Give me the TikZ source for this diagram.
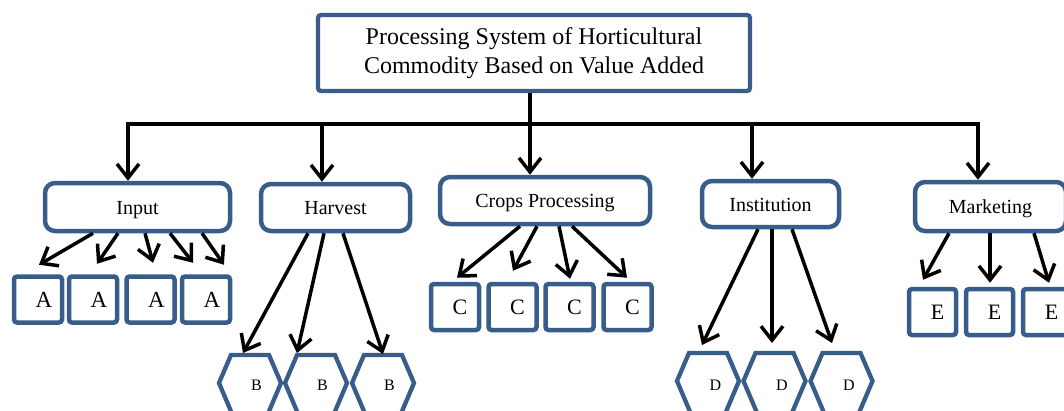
\documentclass[tikz,border=0pt]{standalone}
\usepackage{fontspec}
\setmainfont{Liberation Serif}
\usetikzlibrary{arrows.meta}
\definecolor{boxblue}{RGB}{56,93,138}
\begin{document}
\begin{tikzpicture}[x=1pt,y=-1pt,
  arr/.style={line width=3.5pt,-{Straight Barb[length=14pt,width=22pt]}},
  bus/.style={line width=3.5pt},
  topbox/.style={draw=boxblue,line width=4.3pt,rounded corners=3pt,minimum width=432pt,minimum height=76pt,align=center,font=\fontsize{24}{29}\selectfont,inner sep=0pt},
  catbox/.style={draw=boxblue,line width=4.5pt,rounded corners=10pt,inner sep=0pt,text height=14pt,text depth=0pt,font=\fontsize{20}{24}\selectfont},
  leaf/.style={draw=boxblue,line width=4.5pt,rounded corners=3pt,inner sep=0pt,minimum width=48pt,minimum height=46pt,font=\fontsize{23}{26}\selectfont},
  hexline/.style={draw=boxblue,line width=4.3pt,line join=miter},
  hexlbl/.style={font=\fontsize{16}{18}\selectfont,inner sep=0pt}
]
\useasboundingbox (0,0) rectangle (1064,410);
\fill[white] (0,0) rectangle (1064,410);

% top node
\node[topbox] (top) at (534,53) {Processing System of Horticultural\\Commodity Based on Value Added};

% categories
\node[catbox,minimum width=185pt,minimum height=48pt] (input) at (137.5,207) {Input};
\node[catbox,minimum width=149pt,minimum height=47pt] (harvest) at (335.5,207.5) {Harvest};
\node[catbox,minimum width=210pt,minimum height=47pt] (crops) at (545,200.5) {Crops Processing};
\node[catbox,minimum width=137pt,minimum height=46pt] (inst) at (770.5,204) {Institution};
\node[catbox,minimum width=151pt,minimum height=49pt] (market) at (990.5,206.5) {Marketing};

% leaves A
\node[leaf] (a1) at (38,299.5) {\hspace*{12pt}A};
\node[leaf] (a2) at (93,299.5) {\hspace*{12pt}A};
\node[leaf] (a3) at (150.5,299.5) {\hspace*{12pt}A};
\node[leaf] (a4) at (206,299.5) {\hspace*{12pt}A};
% leaves C
\node[leaf,font=\fontsize{22}{26}\selectfont] (c1) at (455,307) {\hspace*{10pt}\raisebox{-3pt}{C}};
\node[leaf,font=\fontsize{22}{26}\selectfont] (c2) at (512.5,307) {\hspace*{10pt}\raisebox{-3pt}{C}};
\node[leaf,font=\fontsize{22}{26}\selectfont] (c3) at (569.5,307) {\hspace*{10pt}\raisebox{-3pt}{C}};
\node[leaf,font=\fontsize{22}{26}\selectfont] (c4) at (627.5,307) {\hspace*{10pt}\raisebox{-3pt}{C}};
% leaves E
\node[leaf,minimum width=47pt,font=\fontsize{22}{26}\selectfont] (e1) at (932.5,312) {\hspace*{10pt}E};
\node[leaf,minimum width=47pt,font=\fontsize{22}{26}\selectfont] (e2) at (989.5,312) {\hspace*{10pt}E};
\node[leaf,minimum width=47pt,font=\fontsize{22}{26}\selectfont] (e3) at (1046.5,312) {\hspace*{10pt}E};

% hexagons B (bottom edge lies below the picture)
\coordinate (b1) at (250,383);
\coordinate (b2) at (316,383);
\coordinate (b3) at (383,383);
\draw[hexline] (b1) ++(-31,0) -- ++(12,-28) -- ++(38,0) -- ++(12,28) -- ++(-14,33) -- ++(-34,0) -- cycle;
\draw[hexline] (b2) ++(-31,0) -- ++(12,-28) -- ++(38,0) -- ++(12,28) -- ++(-14,33) -- ++(-34,0) -- cycle;
\draw[hexline] (b3) ++(-31,0) -- ++(12,-28) -- ++(38,0) -- ++(12,28) -- ++(-14,33) -- ++(-34,0) -- cycle;
\node[hexlbl] (b1t) at ([xshift=6.5pt,yshift=-2pt]b1) {B};
\node[hexlbl] (b2t) at ([xshift=6.5pt,yshift=-2pt]b2) {B};
\node[hexlbl] (b3t) at ([xshift=6.5pt,yshift=-2pt]b3) {B};
% hexagons D
\coordinate (d1) at (708,381);
\coordinate (d2) at (774.5,381);
\coordinate (d3) at (841.5,381);
\draw[hexline] (d1) ++(-31,0) -- ++(12,-28) -- ++(38,0) -- ++(12,28) -- ++(-14,33) -- ++(-34,0) -- cycle;
\draw[hexline] (d2) ++(-31,0) -- ++(12,-28) -- ++(38,0) -- ++(12,28) -- ++(-14,33) -- ++(-34,0) -- cycle;
\draw[hexline] (d3) ++(-31,0) -- ++(12,-28) -- ++(38,0) -- ++(12,28) -- ++(-14,33) -- ++(-34,0) -- cycle;
\node[hexlbl] (d1t) at ([xshift=7.5pt,yshift=-4pt]d1) {D};
\node[hexlbl] (d2t) at ([xshift=7.5pt,yshift=-4pt]d2) {D};
\node[hexlbl] (d3t) at ([xshift=7.5pt,yshift=-4pt]d3) {D};

% bus
\coordinate (busC) at (530,124);
\coordinate (busL) at (128,124);
\coordinate (busH) at (322,124);
\coordinate (busI) at (752,124);
\coordinate (busR) at (978,124);
\draw[bus] (top.south -| busC) -- (busC);
\draw[bus,line cap=rect] (busL) -- (busR);
\draw[arr] (busL) -- (busL |- input.north);
\draw[arr] (busH) -- (busH |- harvest.north);
\draw[arr] (busC) -- (busC |- crops.north);
\draw[arr] (busI) -- (busI |- inst.north);
\draw[arr] (busR) -- (busR |- market.north);

% Input arrows
\draw[arr] ([xshift=-44.5pt]input.south) -- ([xshift=1pt,yshift=9.5pt]a1.north);
\draw[arr] ([xshift=-19.5pt]input.south) -- ([xshift=4pt,yshift=10.5pt]a2.north);
\draw[arr] ([xshift=7.5pt]input.south) -- ([xshift=2.5pt,yshift=11.5pt]a3.north);
\draw[arr] ([xshift=32.5pt]input.south) -- ([xshift=-13pt,yshift=11.5pt]a4.north);
\draw[arr] ([xshift=64.5pt]input.south) -- ([xshift=18pt,yshift=9.5pt]a4.north);

% Harvest arrows
\draw[arr] ([xshift=-27.5pt]harvest.south) -- ([xshift=-7pt,yshift=30pt]b1);
\draw[arr] ([xshift=-11.5pt]harvest.south) -- ([xshift=-19pt,yshift=30pt]b2);
\draw[arr] ([xshift=7.5pt]harvest.south) -- ([xshift=0pt,yshift=29pt]b3);

% Crops arrows
\draw[arr] ([xshift=-25pt]crops.south) -- ([xshift=2pt,yshift=4pt]c1.north);
\draw[arr] ([xshift=-8pt]crops.south) -- ([xshift=0.5pt,yshift=11pt]c2.north);
\draw[arr] ([xshift=14pt]crops.south) -- ([xshift=0.5pt,yshift=3pt]c3.north);
\draw[arr] ([xshift=27pt]crops.south) -- ([xshift=-0.5pt,yshift=4pt]c4.north);

% Institution arrows
\draw[arr] ([xshift=-12.5pt]inst.south) -- ([xshift=-6pt,yshift=36pt]d1);
\draw[arr] ([xshift=1.5pt]inst.south) -- ([xshift=-2.5pt,yshift=38pt]d2);
\draw[arr] ([xshift=21.5pt]inst.south) -- ([xshift=-9.5pt,yshift=38pt]d3);

% Marketing arrows
\draw[arr] ([xshift=-41.5pt]market.south) -- ([xshift=-9.5pt,yshift=7pt]e1.north);
\draw[arr] ([xshift=-0.5pt]market.south) -- ([xshift=0.5pt,yshift=4pt]e2.north);
\draw[arr] ([xshift=43.5pt]market.south) -- ([xshift=2.5pt,yshift=4pt]e3.north);
\end{tikzpicture}
\end{document}
